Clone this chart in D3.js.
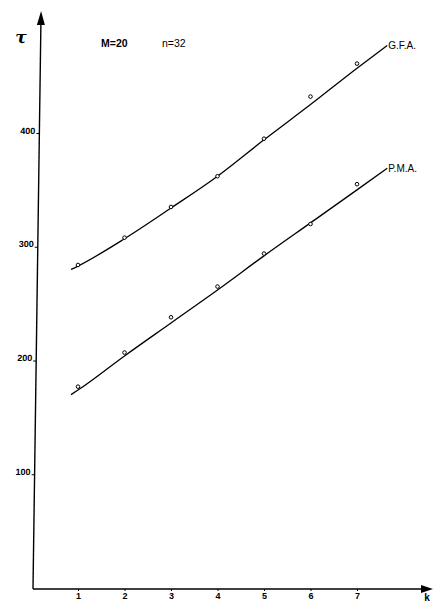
<!DOCTYPE html>
<html>
<head>
<meta charset="utf-8">
<script src="https://cdn.jsdelivr.net/npm/d3@7"></script>
<style>
  html, body { margin: 0; padding: 0; background: #fff; }
  svg { display: block; }
</style>
</head>
<body>
<script>
// ---- data ----
const kTicks = [1, 2, 3, 4, 5, 6, 7];
const tauTicks = [100, 200, 300, 400];
const kPoints = [1, 2, 3, 4, 5, 6, 7];
const gfaPoints = [284, 308, 335, 362, 395, 432, 461];
const pmaPoints = [177, 207, 238, 265, 294, 320, 355];
const kFit = [0.85, 1, 2, 3, 4, 5, 6, 7, 7.65];
const gfaFit = [280, 283, 307, 334, 362, 394, 425, 457, 477];
const pmaFit = [170, 174, 204, 233, 262, 292, 321, 350, 369];
const seriesLabels = ["G.F.A.", "P.M.A."];

const W = 436, H = 605;
const svg = d3.select("body").append("svg").attr("width", W).attr("height", H);

const x = d3.scaleLinear().domain([1, 7]).range([78, 357]);
const y = d3.scaleLinear().domain([0, 400]).range([588, 133]);

const baseY = 589, axisX = 33;
const font = "'Liberation Sans', Arial, sans-serif";

// ---- y axis (slightly tilted as in the scan) ----
const yg = svg.append("g")
  .attr("transform", `translate(${axisX},${baseY}) skewX(-0.8) translate(0,${-baseY})`);
yg.append("line").attr("x1", 0).attr("x2", 0).attr("y1", baseY).attr("y2", 22)
  .attr("stroke", "#000").attr("stroke-width", 1.4);
yg.append("path").attr("d", `M0,11 L-4,25 L4,25 Z`).attr("fill", "#000");
const yAxis = d3.axisLeft(y).tickValues(tauTicks).tickSize(3).tickPadding(1);
const ya = yg.append("g").call(yAxis);
ya.select(".domain").remove();
ya.selectAll(".tick line").attr("stroke", "#000").attr("stroke-width", 1);
ya.selectAll(".tick text").attr("dy", "0").attr("font-family", font)
  .attr("font-weight", "bold").attr("font-size", 9).attr("fill", "#000");

// ---- x axis ----
const xg = svg.append("g").attr("transform", `translate(0,${baseY})`);
xg.append("line").attr("x1", axisX).attr("x2", 424).attr("y1", 0).attr("y2", 0)
  .attr("stroke", "#000").attr("stroke-width", 1.4);
xg.append("path").attr("d", `M433,0 L421,-4 L421,4 Z`).attr("fill", "#000");
const xAxis = d3.axisBottom(x).tickValues(kTicks).tickSize(2).tickPadding(2)
  .tickFormat(d3.format("d"));
const xa = xg.append("g").call(xAxis);
xa.select(".domain").remove();
xa.selectAll(".tick line").attr("stroke", "#000");
xa.selectAll(".tick text").attr("font-family", font).attr("font-weight", "bold")
  .attr("font-size", 9).attr("fill", "#000");

// axis titles
svg.append("text").attr("x", 427).attr("y", 601).attr("text-anchor", "middle")
  .attr("font-family", font).attr("font-weight", "bold").attr("font-size", 10).text("k");
svg.append("text").attr("x", 21).attr("y", 43).attr("text-anchor", "middle")
  .attr("font-family", "'DejaVu Serif', serif").attr("font-weight", "bold")
  .attr("font-style", "italic").attr("font-size", 17).text("τ");

// header texts
svg.append("text").attr("x", 101).attr("y", 47).attr("font-family", font)
  .attr("font-weight", "bold").attr("font-size", 10.5).text("M=20");
svg.append("text").attr("x", 162).attr("y", 47).attr("font-family", font)
  .attr("font-size", 10.5).text("n=32");

// ---- fitted curves ----
const line = d3.line().x(d => x(d[0])).y(d => y(d[1])).curve(d3.curveMonotoneX);
const fits = [gfaFit, pmaFit];
fits.forEach((f, i) => {
  svg.append("path").datum(kFit.map((k, j) => [k, f[j]]))
    .attr("d", line).attr("fill", "none").attr("stroke", "#000").attr("stroke-width", 1.3);
  const lastK = kFit[kFit.length - 1], lastV = f[f.length - 1];
  svg.append("text").attr("x", x(lastK) + 1).attr("y", y(lastV) + 4)
    .attr("font-family", font).attr("font-size", 10).text(seriesLabels[i]);
});

// ---- data points ----
[gfaPoints, pmaPoints].forEach(p => {
  svg.append("g").selectAll("circle").data(kPoints.map((k, j) => [k, p[j]]))
    .join("circle").attr("cx", d => x(d[0])).attr("cy", d => y(d[1])).attr("r", 1.8)
    .attr("fill", "#fff").attr("stroke", "#000").attr("stroke-width", 1);
});
</script>
</body>
</html>
